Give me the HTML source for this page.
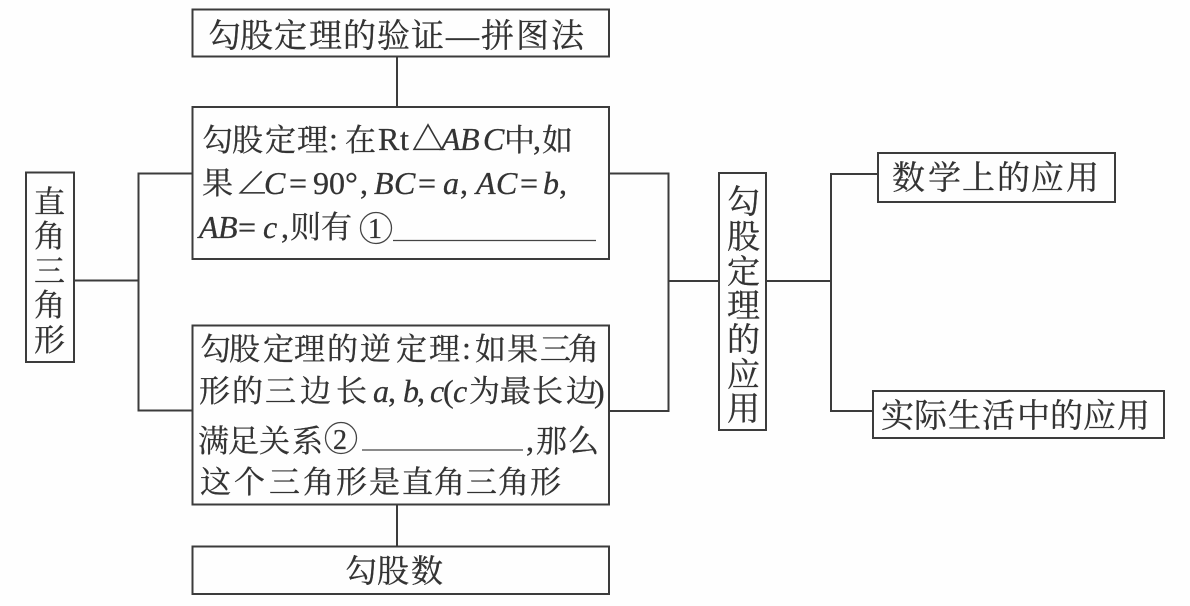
<!DOCTYPE html>
<html lang="zh">
<head>
<meta charset="utf-8">
<style>
html,body{margin:0;padding:0;background:#fefefe;}
svg{display:block;}
text{font-family:"Liberation Serif","Noto Serif CJK SC",serif;fill:#333;stroke:#333;stroke-width:.3px;}
.c{font-size:31px;}
.l{font-size:33px;}
.i{font-style:italic;font-size:32px;}
.r{font-size:32px;}
</style>
</head>
<body>
<svg width="1190" height="606" viewBox="0 0 1190 606" xmlns="http://www.w3.org/2000/svg">
<g fill="none" stroke="#3c3c3c" stroke-width="2">
<rect x="192.500" y="9.500" width="416.500" height="47"/>
<rect x="192.500" y="107" width="416.500" height="152"/>
<rect x="192.500" y="325.500" width="416.500" height="179"/>
<rect x="192.500" y="546.500" width="416.500" height="47.500"/>
<rect x="26" y="172.500" width="48" height="189.500"/>
<rect x="719" y="173" width="47" height="257"/>
<rect x="878" y="153" width="237" height="49"/>
<rect x="873" y="391" width="291" height="47"/>
<path d="M397 56V107M397 505V546M192 173.500H138.500V410.500H192M74 280.500H138.500M609 173.500H668.500V411H609M669 281H719M766 281H831M878 174H831V411H873"/>
</g>
<g stroke="#444" stroke-width="1.300" fill="none">
<path d="M393 240.500H596M362 450H523"/>
<circle cx="376" cy="228" r="15.500"/>
<circle cx="341" cy="438" r="15.500"/>
</g>

<text class="l" y="47" x="208 240 274 309 343 377 411 446 481 516 551">勾股定理的验证—拼图法</text>

<text class="c" y="151" x="202 232 265 297">勾股定理</text>
<text class="r" y="150" x="329">:</text>
<text class="c" y="151" x="345">在</text>
<text class="r" y="150" x="378 400">Rt</text>
<text class="r" y="150" x="412">△</text>
<text class="i" y="150" x="441 460 483">ABC</text>
<text class="c" y="151" x="504">中</text>
<text class="r" y="150" x="533">,</text>
<text class="c" y="151" x="542">如</text>

<text class="c" y="194" x="202">果</text>
<text class="r" y="194" x="236">∠</text>
<text class="i" y="194" x="264">C</text>
<text class="r" y="194" x="289">=</text>
<text class="r" y="194" x="313 329 345">90°</text>
<text class="r" y="194" x="360">,</text>
<text class="i" y="194" x="374 394">BC</text>
<text class="r" y="194" x="418">=</text>
<text class="i" y="194" x="443">a</text>
<text class="r" y="194" x="460">,</text>
<text class="i" y="194" x="476 496">AC</text>
<text class="r" y="194" x="520">=</text>
<text class="i" y="194" x="543">b</text>
<text class="r" y="194" x="559">,</text>

<text class="i" y="238" x="199 218">AB</text>
<text class="r" y="238" x="238">=</text>
<text class="i" y="238" x="263">c</text>
<text class="r" y="238" x="281">,</text>
<text class="c" y="238" x="290 321">则有</text>
<text class="r" y="238" x="368" style="font-size:28px">1</text>

<text class="c" y="360" x="200 229 263 294 327 360 396 429">勾股定理的逆定理</text>
<text class="r" y="359" x="462">:</text>
<text class="c" y="360" x="475 507 540 568">如果三角</text>

<text class="c" y="402" x="199 232 265 300 336">形的三边长</text>
<text class="i" y="402" x="373">a</text>
<text class="r" y="402" x="388">,</text>
<text class="i" y="402" x="403">b</text>
<text class="r" y="402" x="417">,</text>
<text class="i" y="402" x="430">c</text>
<text class="r" y="402" x="443">(</text>
<text class="i" y="402" x="453">c</text>
<text class="c" y="402" x="469 500 532 566">为最长边</text>
<text class="r" y="402" x="594">)</text>

<text class="c" y="452" x="198 228 259 292">满足关系</text>
<text class="r" y="449" x="333" style="font-size:28px">2</text>
<text class="r" y="451" x="526">,</text>
<text class="c" y="452" x="536 568">那么</text>

<text class="c" y="493" x="200 234 269 303 336 369 402 434 466 498 530">这个三角形是直角三角形</text>

<text class="l" y="582" x="345 377 411" style="font-size:32px">勾股数</text>

<text class="c" y="213" x="34">直</text>
<text class="c" y="247" x="34">角</text>
<text class="c" y="282" x="34">三</text>
<text class="c" y="316" x="34">角</text>
<text class="c" y="351" x="34">形</text>

<text class="l" y="213" x="727">勾</text>
<text class="l" y="248" x="727">股</text>
<text class="l" y="283" x="727">定</text>
<text class="l" y="317" x="727">理</text>
<text class="l" y="351" x="727">的</text>
<text class="l" y="386" x="727">应</text>
<text class="l" y="420" x="727">用</text>

<text class="l" y="189" x="892 928 962 997 1031 1066">数学上的应用</text>
<text class="l" y="427" x="881 914 948 982 1017 1050 1083 1117">实际生活中的应用</text>
</svg>
</body>
</html>
